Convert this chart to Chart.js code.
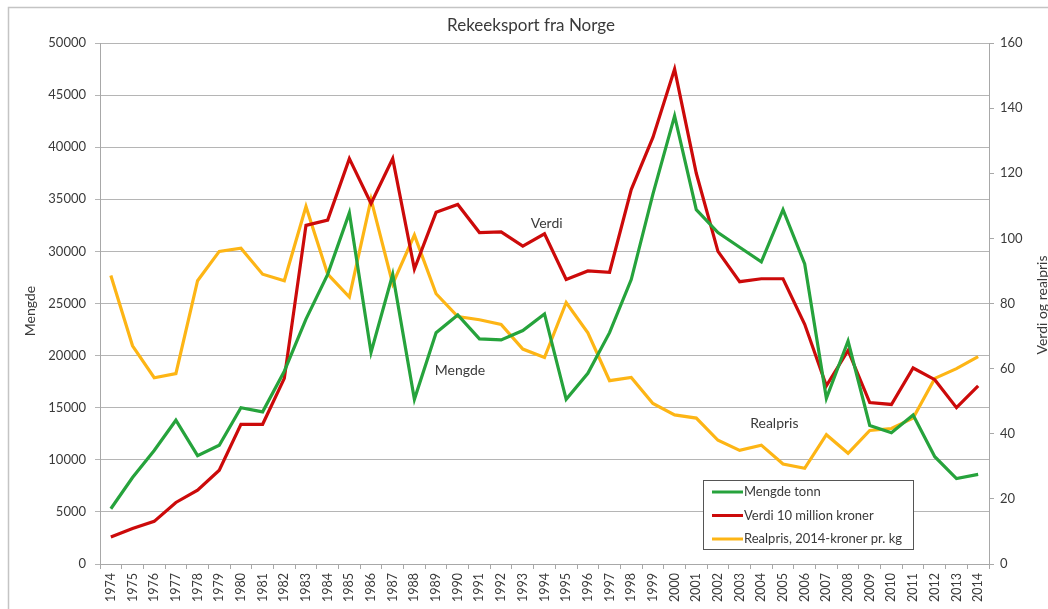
<!DOCTYPE html>
<html>
<head>
<meta charset="utf-8">
<title>Rekeeksport fra Norge</title>
<script src="https://cdn.jsdelivr.net/npm/chart.js@4"></script>
<style>
  html, body { margin: 0; padding: 0; background: #fff; }
  #wrap { width: 1048px; height: 609px; }
</style>
</head>
<body>
<div id="wrap"><canvas id="chart" width="1048" height="609"></canvas></div>
<script>
/* DATA */
const years = [];
for (let y = 1974; y <= 2014; y++) years.push(String(y));

const mengde = [5300, 8300, 10900, 13800, 10400, 11400, 15000, 14600, 18500, 23500,
    27800, 33700, 20300, 27800, 15800, 22200, 23900, 21600, 21500, 22400,
    24000, 15800, 18300, 22200, 27300, 35500, 43000, 34000, 31800, 30400,
    29000, 34000, 28800, 15900, 21400, 13300, 12600, 14300, 10300, 8200, 8600];

const verdi = [8.3, 10.9, 13.1, 18.9, 22.7, 28.8, 42.9, 42.9, 57, 104,
    105.6, 124.5, 110.7, 124.5, 90.6, 108, 110.4, 101.8, 102, 97.6,
    101.4, 87.4, 90, 89.6, 115, 131, 152, 120, 96, 86.7,
    87.6, 87.6, 73.6, 54.7, 65.6, 49.6, 49, 60.2, 56.6, 48, 54.7];

const realpris = [88.6, 67, 57.2, 58.5, 87, 96, 97, 89, 87, 109.8,
    89, 82, 112, 86, 101, 83, 76, 75, 73.6, 66,
    63.4, 80.3, 71, 56.3, 57.3, 49.3, 45.8, 44.8, 38, 34.9,
    36.5, 30.7, 29.4, 39.7, 34, 41, 41.6, 44.8, 57, 60, 63.7];

const seriesNames = ["Mengde tonn", "Verdi 10 million kroner", "Realpris, 2014-kroner pr. kg"];
const colors = ["#26a33c", "#cc0a0a", "#fdb515"];

// text labels placed on the chart: [text, category index, right-axis value]
const notes = [["Verdi", 20.1, 104.7], ["Mengde", 16.1, 59.3], ["Realpris", 30.6, 43.3]];

const FONT = "Lato, 'Open Sans', sans-serif";
const TXT = "#3a3a3a";
const GRID = "#b5b5b5";

/* EXTRA DRAWING: frame, title, axis titles, notes, legend */
const decor = {
    id: "decor",
    beforeDraw(chart) {
        const c = chart.ctx;
        c.save();
        c.strokeStyle = "#c4c4c4";
        c.lineWidth = 1.5;
        c.strokeRect(8.5, 7.5, 1100, 700);
        c.restore();
    },
    afterDatasetsDraw(chart) {
        const c = chart.ctx;
        const sx = chart.scales.x, sr = chart.scales.y1;
        c.save();
        c.fillStyle = TXT;
        c.textAlign = "center";
        c.textBaseline = "middle";
        c.font = "17px " + FONT;
        c.fillText("Rekeeksport fra Norge", 531, 26);

        c.font = "14px " + FONT;
        c.save();
        c.translate(30, 311);
        c.rotate(-Math.PI / 2);
        c.fillText("Mengde", 0, 0);
        c.restore();
        c.save();
        c.translate(1042, 305);
        c.rotate(-Math.PI / 2);
        c.fillText("Verdi og realpris", 0, 0);
        c.restore();

        notes.forEach(n => {
            const x = sx.left + (n[1] + 0.5) * (sx.width / years.length);
            c.fillText(n[0], x, sr.getPixelForValue(n[2]));
        });

        // legend box
        c.fillStyle = "#fff";
        c.fillRect(703, 480, 210, 69);
        c.strokeStyle = "#555";
        c.lineWidth = 1;
        c.strokeRect(703.5, 480.5, 210, 69);
        c.font = "13px " + FONT;
        c.textAlign = "left";
        seriesNames.forEach((s, i) => {
            const y = 492 + i * 23.5;
            c.strokeStyle = colors[i];
            c.lineWidth = 3;
            c.beginPath();
            c.moveTo(712, y);
            c.lineTo(743, y);
            c.stroke();
            c.fillStyle = TXT;
            c.fillText(s, 744, y);
        });
        c.restore();
    }
};

new Chart(document.getElementById("chart"), {
    type: "line",
    data: {
        labels: years,
        datasets: [
            { label: seriesNames[0], data: mengde, yAxisID: "y" },
            { label: seriesNames[1], data: verdi, yAxisID: "y1" },
            { label: seriesNames[2], data: realpris, yAxisID: "y1" }
        ].map((d, i) => Object.assign(d, {
            borderColor: colors[i],
            backgroundColor: colors[i],
            borderWidth: 3.2,
            pointRadius: 0,
            tension: 0,
            fill: false
        }))
    },
    options: {
        responsive: false,
        animation: false,
        devicePixelRatio: 1,
        layout: { padding: { top: 43, left: 0, right: 0, bottom: 0 } },
        plugins: {
            legend: { display: false },
            title: { display: false },
            tooltip: { enabled: false }
        },
        scales: {
            x: {
                offset: true,
                grid: { display: true, drawOnChartArea: false, offset: true, tickLength: 5, color: "#a8a8a8" },
                border: { color: "#a8a8a8" },
                ticks: {
                    autoSkip: false, minRotation: 90, maxRotation: 90, padding: 4,
                    color: TXT, font: { family: FONT, size: 12.5 }
                },
                afterFit(s) { s.height = 45; }
            },
            y: {
                position: "left",
                min: 0, max: 50000,
                grid: { color: GRID, tickLength: 5 },
                border: { color: "#a8a8a8" },
                ticks: {
                    stepSize: 5000, padding: 9,
                    color: TXT, font: { family: FONT, size: 13 },
                    callback: v => String(v)
                },
                afterFit(s) { s.width = 100; }
            },
            y1: {
                position: "right",
                min: 0, max: 160,
                grid: { drawOnChartArea: false, color: "#a8a8a8", tickLength: 5 },
                border: { color: "#a8a8a8" },
                ticks: {
                    stepSize: 20, padding: 6,
                    color: TXT, font: { family: FONT, size: 13 },
                    callback: v => String(v)
                },
                afterFit(s) { s.width = 59; }
            }
        }
    },
    plugins: [decor]
});
</script>
</body>
</html>
